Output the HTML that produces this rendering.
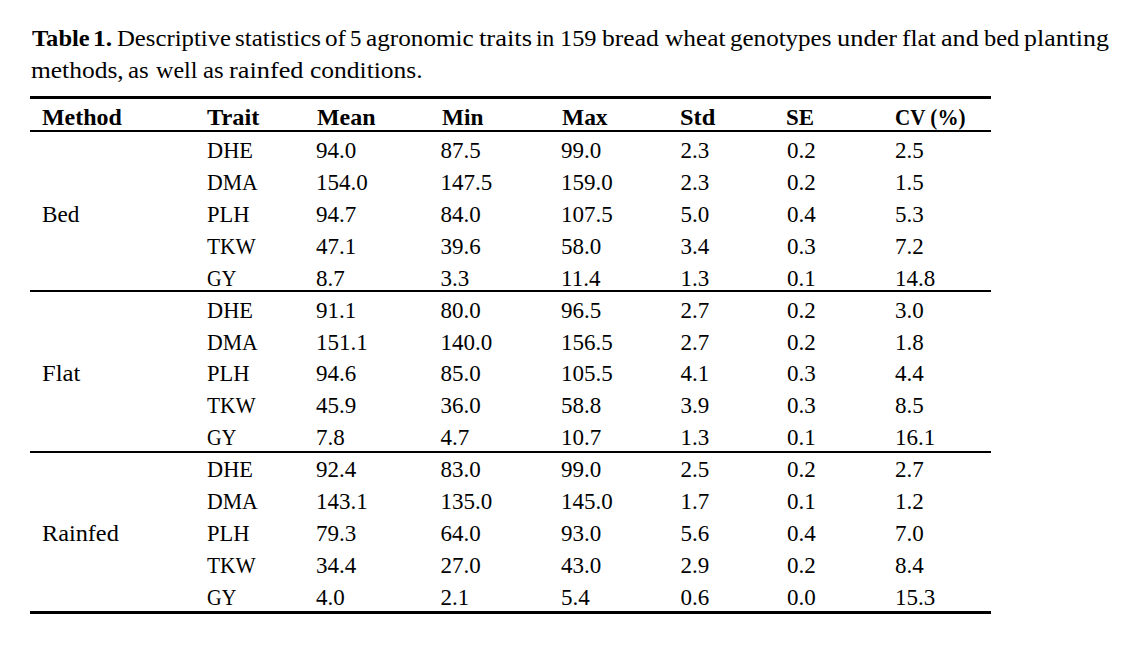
<!DOCTYPE html>
<html><head><meta charset="utf-8"><style>
html,body{margin:0;padding:0;background:#fff;}
body{width:1133px;height:646px;position:relative;overflow:hidden;color:#000;}
.b,.h,.c,.cb{position:absolute;white-space:nowrap;line-height:0;height:0;font-family:"Liberation Serif",serif;transform-origin:0 0;}
.b{font-size:23px;transform-origin:0 7px;}
.c{font-size:23px;}
.cb{font-size:23px;font-weight:bold;}
.h{font-size:23px;font-weight:bold;}
.r{position:absolute;left:30px;width:961px;background:#000;}
</style></head><body>
<div class="r" style="top:96px;height:3px"></div>
<div class="r" style="top:130px;height:2px"></div>
<div class="r" style="top:290px;height:2px"></div>
<div class="r" style="top:451px;height:2px"></div>
<div class="r" style="top:611px;height:3px"></div>
<div class="cb" style="left:32.40px;top:39px;transform:scaleX(1.0667)">Table</div>
<div class="cb" style="left:92.69px;top:39px;transform:scaleX(1.1071)">1.</div>
<div class="c" style="left:116.72px;top:39px;transform:scaleX(1.0760)">Descriptive</div>
<div class="c" style="left:234.71px;top:39px;transform:scaleX(1.0859)">statistics</div>
<div class="c" style="left:324.91px;top:39px;transform:scaleX(1.0944)">of</div>
<div class="c" style="left:349.71px;top:39px;transform:scaleX(0.9900)">5</div>
<div class="c" style="left:365.60px;top:39px;transform:scaleX(1.0959)">agronomic</div>
<div class="c" style="left:479.20px;top:39px;transform:scaleX(1.1533)">traits</div>
<div class="c" style="left:536.28px;top:39px;transform:scaleX(1.0176)">in</div>
<div class="c" style="left:559.79px;top:39px;transform:scaleX(1.0563)">159</div>
<div class="c" style="left:601.90px;top:39px;transform:scaleX(1.1137)">bread</div>
<div class="c" style="left:664.90px;top:39px;transform:scaleX(1.1018)">wheat</div>
<div class="c" style="left:730.01px;top:39px;transform:scaleX(1.0880)">genotypes</div>
<div class="c" style="left:836.95px;top:39px;transform:scaleX(1.1490)">under</div>
<div class="c" style="left:901.79px;top:39px;transform:scaleX(1.1069)">flat</div>
<div class="c" style="left:940.87px;top:39px;transform:scaleX(1.1344)">and</div>
<div class="c" style="left:984.40px;top:39px;transform:scaleX(1.0636)">bed</div>
<div class="c" style="left:1024.47px;top:39px;transform:scaleX(1.1257)">planting</div>
<div class="c" style="left:30.60px;top:71px;transform:scaleX(1.1073)">methods,</div>
<div class="c" style="left:127.72px;top:71px;transform:scaleX(1.0833)">as</div>
<div class="c" style="left:155.70px;top:71px;transform:scaleX(1.0462)">well</div>
<div class="c" style="left:202.82px;top:71px;transform:scaleX(1.0778)">as</div>
<div class="c" style="left:229.06px;top:71px;transform:scaleX(1.1437)">rainfed</div>
<div class="c" style="left:309.69px;top:71px;transform:scaleX(1.1091)">conditions.</div>
<div class="h" style="left:42.40px;top:118px;transform:scaleX(1.0416)">Method</div>
<div class="h" style="left:207.10px;top:118px;transform:scaleX(1.0612)">Trait</div>
<div class="h" style="left:316.50px;top:118px;transform:scaleX(1.0411)">Mean</div>
<div class="h" style="left:441.50px;top:118px;transform:scaleX(1.0122)">Min</div>
<div class="h" style="left:561.50px;top:118px;transform:scaleX(1.0200)">Max</div>
<div class="h" style="left:680.44px;top:118px;transform:scaleX(1.0625)">Std</div>
<div class="h" style="left:786.40px;top:118px;transform:scaleX(0.9962)">SE</div>
<div class="h" style="left:894.98px;top:118px;transform:scaleX(0.9173)">CV (%)</div>
<div class="b" style="left:206.83px;top:151px;transform:scaleX(0.9711) scaleY(1.0)">DHE</div>
<div class="b" style="left:316px;top:151px;transform:scaleX(1.0000) scaleY(1.0)">94.0</div>
<div class="b" style="left:440.5px;top:151px;transform:scaleX(1.0000) scaleY(1.0)">87.5</div>
<div class="b" style="left:561px;top:151px;transform:scaleX(1.0000) scaleY(1.0)">99.0</div>
<div class="b" style="left:680.5px;top:151px;transform:scaleX(1.0000) scaleY(1.0)">2.3</div>
<div class="b" style="left:787px;top:151px;transform:scaleX(1.0000) scaleY(1.0)">0.2</div>
<div class="b" style="left:895px;top:151px;transform:scaleX(1.0000) scaleY(1.0)">2.5</div>
<div class="b" style="left:206.75px;top:183px;transform:scaleX(0.9462) scaleY(1.0)">DMA</div>
<div class="b" style="left:316px;top:183px;transform:scaleX(1.0000) scaleY(1.0)">154.0</div>
<div class="b" style="left:440.5px;top:183px;transform:scaleX(1.0000) scaleY(1.0)">147.5</div>
<div class="b" style="left:561px;top:183px;transform:scaleX(1.0000) scaleY(1.0)">159.0</div>
<div class="b" style="left:680.5px;top:183px;transform:scaleX(1.0000) scaleY(1.0)">2.3</div>
<div class="b" style="left:787px;top:183px;transform:scaleX(1.0000) scaleY(1.0)">0.2</div>
<div class="b" style="left:895px;top:183px;transform:scaleX(1.0000) scaleY(1.0)">1.5</div>
<div class="b" style="left:41.69px;top:215px;transform:scaleX(1.0083) scaleY(1.0)">Bed</div>
<div class="b" style="left:206.92px;top:215px;transform:scaleX(0.9786) scaleY(1.0)">PLH</div>
<div class="b" style="left:316px;top:215px;transform:scaleX(1.0000) scaleY(1.0)">94.7</div>
<div class="b" style="left:440.5px;top:215px;transform:scaleX(1.0000) scaleY(1.0)">84.0</div>
<div class="b" style="left:561px;top:215px;transform:scaleX(1.0000) scaleY(1.0)">107.5</div>
<div class="b" style="left:680.5px;top:215px;transform:scaleX(1.0000) scaleY(1.0)">5.0</div>
<div class="b" style="left:787px;top:215px;transform:scaleX(1.0000) scaleY(1.0)">0.4</div>
<div class="b" style="left:895px;top:215px;transform:scaleX(1.0000) scaleY(1.0)">5.3</div>
<div class="b" style="left:207.20px;top:247px;transform:scaleX(0.9308) scaleY(1.0)">TKW</div>
<div class="b" style="left:316px;top:247px;transform:scaleX(1.0000) scaleY(1.0)">47.1</div>
<div class="b" style="left:440.5px;top:247px;transform:scaleX(1.0000) scaleY(1.0)">39.6</div>
<div class="b" style="left:561px;top:247px;transform:scaleX(1.0000) scaleY(1.0)">58.0</div>
<div class="b" style="left:680.5px;top:247px;transform:scaleX(1.0000) scaleY(1.0)">3.4</div>
<div class="b" style="left:787px;top:247px;transform:scaleX(1.0000) scaleY(1.0)">0.3</div>
<div class="b" style="left:895px;top:247px;transform:scaleX(1.0000) scaleY(1.0)">7.2</div>
<div class="b" style="left:207.02px;top:279px;transform:scaleX(0.8806) scaleY(1.0)">GY</div>
<div class="b" style="left:316px;top:279px;transform:scaleX(1.0000) scaleY(1.0)">8.7</div>
<div class="b" style="left:440.5px;top:279px;transform:scaleX(1.0000) scaleY(1.0)">3.3</div>
<div class="b" style="left:561px;top:279px;transform:scaleX(1.0000) scaleY(1.0)">11.4</div>
<div class="b" style="left:680.5px;top:279px;transform:scaleX(1.0000) scaleY(1.0)">1.3</div>
<div class="b" style="left:787px;top:279px;transform:scaleX(1.0000) scaleY(1.0)">0.1</div>
<div class="b" style="left:895px;top:279px;transform:scaleX(1.0000) scaleY(1.0)">14.8</div>
<div class="b" style="left:206.83px;top:311px;transform:scaleX(0.9711) scaleY(1.0)">DHE</div>
<div class="b" style="left:316px;top:311px;transform:scaleX(1.0000) scaleY(1.0)">91.1</div>
<div class="b" style="left:440.5px;top:311px;transform:scaleX(1.0000) scaleY(1.0)">80.0</div>
<div class="b" style="left:561px;top:311px;transform:scaleX(1.0000) scaleY(1.0)">96.5</div>
<div class="b" style="left:680.5px;top:311px;transform:scaleX(1.0000) scaleY(1.0)">2.7</div>
<div class="b" style="left:787px;top:311px;transform:scaleX(1.0000) scaleY(1.0)">0.2</div>
<div class="b" style="left:895px;top:311px;transform:scaleX(1.0000) scaleY(1.0)">3.0</div>
<div class="b" style="left:206.75px;top:343px;transform:scaleX(0.9462) scaleY(1.0)">DMA</div>
<div class="b" style="left:316px;top:343px;transform:scaleX(1.0000) scaleY(1.0)">151.1</div>
<div class="b" style="left:440.5px;top:343px;transform:scaleX(1.0000) scaleY(1.0)">140.0</div>
<div class="b" style="left:561px;top:343px;transform:scaleX(1.0000) scaleY(1.0)">156.5</div>
<div class="b" style="left:680.5px;top:343px;transform:scaleX(1.0000) scaleY(1.0)">2.7</div>
<div class="b" style="left:787px;top:343px;transform:scaleX(1.0000) scaleY(1.0)">0.2</div>
<div class="b" style="left:895px;top:343px;transform:scaleX(1.0000) scaleY(1.0)">1.8</div>
<div class="b" style="left:41.73px;top:374px;transform:scaleX(1.0714) scaleY(1.0)">Flat</div>
<div class="b" style="left:206.92px;top:374px;transform:scaleX(0.9786) scaleY(1.0)">PLH</div>
<div class="b" style="left:316px;top:374px;transform:scaleX(1.0000) scaleY(1.0)">94.6</div>
<div class="b" style="left:440.5px;top:374px;transform:scaleX(1.0000) scaleY(1.0)">85.0</div>
<div class="b" style="left:561px;top:374px;transform:scaleX(1.0000) scaleY(1.0)">105.5</div>
<div class="b" style="left:680.5px;top:374px;transform:scaleX(1.0000) scaleY(1.0)">4.1</div>
<div class="b" style="left:787px;top:374px;transform:scaleX(1.0000) scaleY(1.0)">0.3</div>
<div class="b" style="left:895px;top:374px;transform:scaleX(1.0000) scaleY(1.0)">4.4</div>
<div class="b" style="left:207.20px;top:406px;transform:scaleX(0.9308) scaleY(1.0)">TKW</div>
<div class="b" style="left:316px;top:406px;transform:scaleX(1.0000) scaleY(1.0)">45.9</div>
<div class="b" style="left:440.5px;top:406px;transform:scaleX(1.0000) scaleY(1.0)">36.0</div>
<div class="b" style="left:561px;top:406px;transform:scaleX(1.0000) scaleY(1.0)">58.8</div>
<div class="b" style="left:680.5px;top:406px;transform:scaleX(1.0000) scaleY(1.0)">3.9</div>
<div class="b" style="left:787px;top:406px;transform:scaleX(1.0000) scaleY(1.0)">0.3</div>
<div class="b" style="left:895px;top:406px;transform:scaleX(1.0000) scaleY(1.0)">8.5</div>
<div class="b" style="left:207.02px;top:438px;transform:scaleX(0.8806) scaleY(1.0)">GY</div>
<div class="b" style="left:316px;top:438px;transform:scaleX(1.0000) scaleY(1.0)">7.8</div>
<div class="b" style="left:440.5px;top:438px;transform:scaleX(1.0000) scaleY(1.0)">4.7</div>
<div class="b" style="left:561px;top:438px;transform:scaleX(1.0000) scaleY(1.0)">10.7</div>
<div class="b" style="left:680.5px;top:438px;transform:scaleX(1.0000) scaleY(1.0)">1.3</div>
<div class="b" style="left:787px;top:438px;transform:scaleX(1.0000) scaleY(1.0)">0.1</div>
<div class="b" style="left:895px;top:438px;transform:scaleX(1.0000) scaleY(1.0)">16.1</div>
<div class="b" style="left:206.83px;top:470px;transform:scaleX(0.9711) scaleY(1.0)">DHE</div>
<div class="b" style="left:316px;top:470px;transform:scaleX(1.0000) scaleY(1.0)">92.4</div>
<div class="b" style="left:440.5px;top:470px;transform:scaleX(1.0000) scaleY(1.0)">83.0</div>
<div class="b" style="left:561px;top:470px;transform:scaleX(1.0000) scaleY(1.0)">99.0</div>
<div class="b" style="left:680.5px;top:470px;transform:scaleX(1.0000) scaleY(1.0)">2.5</div>
<div class="b" style="left:787px;top:470px;transform:scaleX(1.0000) scaleY(1.0)">0.2</div>
<div class="b" style="left:895px;top:470px;transform:scaleX(1.0000) scaleY(1.0)">2.7</div>
<div class="b" style="left:206.75px;top:502px;transform:scaleX(0.9462) scaleY(1.0)">DMA</div>
<div class="b" style="left:316px;top:502px;transform:scaleX(1.0000) scaleY(1.0)">143.1</div>
<div class="b" style="left:440.5px;top:502px;transform:scaleX(1.0000) scaleY(1.0)">135.0</div>
<div class="b" style="left:561px;top:502px;transform:scaleX(1.0000) scaleY(1.0)">145.0</div>
<div class="b" style="left:680.5px;top:502px;transform:scaleX(1.0000) scaleY(1.0)">1.7</div>
<div class="b" style="left:787px;top:502px;transform:scaleX(1.0000) scaleY(1.0)">0.1</div>
<div class="b" style="left:895px;top:502px;transform:scaleX(1.0000) scaleY(1.0)">1.2</div>
<div class="b" style="left:41.85px;top:534px;transform:scaleX(1.0542) scaleY(1.0)">Rainfed</div>
<div class="b" style="left:206.92px;top:534px;transform:scaleX(0.9786) scaleY(1.0)">PLH</div>
<div class="b" style="left:316px;top:534px;transform:scaleX(1.0000) scaleY(1.0)">79.3</div>
<div class="b" style="left:440.5px;top:534px;transform:scaleX(1.0000) scaleY(1.0)">64.0</div>
<div class="b" style="left:561px;top:534px;transform:scaleX(1.0000) scaleY(1.0)">93.0</div>
<div class="b" style="left:680.5px;top:534px;transform:scaleX(1.0000) scaleY(1.0)">5.6</div>
<div class="b" style="left:787px;top:534px;transform:scaleX(1.0000) scaleY(1.0)">0.4</div>
<div class="b" style="left:895px;top:534px;transform:scaleX(1.0000) scaleY(1.0)">7.0</div>
<div class="b" style="left:207.20px;top:566px;transform:scaleX(0.9308) scaleY(1.0)">TKW</div>
<div class="b" style="left:316px;top:566px;transform:scaleX(1.0000) scaleY(1.0)">34.4</div>
<div class="b" style="left:440.5px;top:566px;transform:scaleX(1.0000) scaleY(1.0)">27.0</div>
<div class="b" style="left:561px;top:566px;transform:scaleX(1.0000) scaleY(1.0)">43.0</div>
<div class="b" style="left:680.5px;top:566px;transform:scaleX(1.0000) scaleY(1.0)">2.9</div>
<div class="b" style="left:787px;top:566px;transform:scaleX(1.0000) scaleY(1.0)">0.2</div>
<div class="b" style="left:895px;top:566px;transform:scaleX(1.0000) scaleY(1.0)">8.4</div>
<div class="b" style="left:207.02px;top:598px;transform:scaleX(0.8806) scaleY(1.0)">GY</div>
<div class="b" style="left:316px;top:598px;transform:scaleX(1.0000) scaleY(1.0)">4.0</div>
<div class="b" style="left:440.5px;top:598px;transform:scaleX(1.0000) scaleY(1.0)">2.1</div>
<div class="b" style="left:561px;top:598px;transform:scaleX(1.0000) scaleY(1.0)">5.4</div>
<div class="b" style="left:680.5px;top:598px;transform:scaleX(1.0000) scaleY(1.0)">0.6</div>
<div class="b" style="left:787px;top:598px;transform:scaleX(1.0000) scaleY(1.0)">0.0</div>
<div class="b" style="left:895px;top:598px;transform:scaleX(1.0000) scaleY(1.0)">15.3</div>
</body></html>
